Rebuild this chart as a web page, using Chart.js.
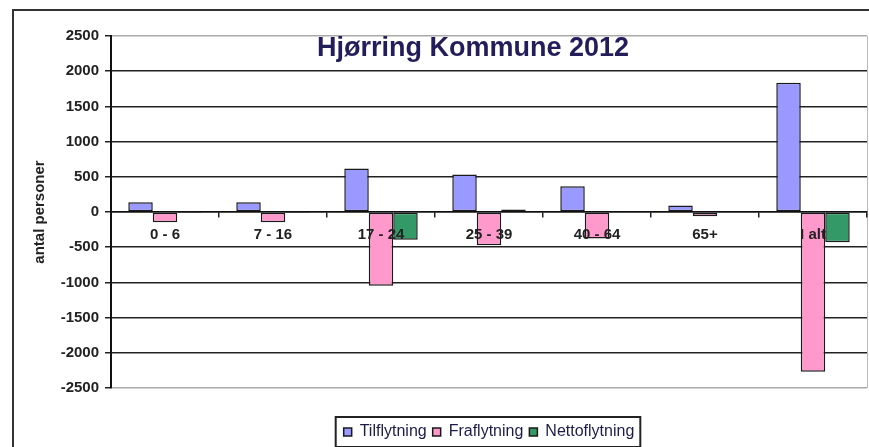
<!DOCTYPE html>
<html>
<head>
<meta charset="utf-8">
<script src="https://cdn.jsdelivr.net/npm/chart.js@4.4.8/dist/chart.umd.min.js"></script>
<style>
  html, body { margin: 0; padding: 0; background: #fff; }
  canvas { display: block; }
</style>
</head>
<body>
<canvas id="flytChart" width="869" height="447"></canvas>
<script>
const ageGroups = ["0 - 6", "7 - 16", "17 - 24", "25 - 39", "40 - 64", "65+", "I alt"];
const tilflytning = [137, 137, 619, 531, 366, 93, 1837];
const fraflytning = [-146, -146, -1048, -473, -377, -61, -2270];
const nettoflytning = [-5, -5, -395, 35, -10, 3, -429];
const yTicks = [-2500, -2000, -1500, -1000, -500, 0, 500, 1000, 1500, 2000, 2500];

const chartTitle = "Hjørring Kommune 2012";
const axisTitle = "antal personer";

// ramme, titel og legendeboks
const decorations = {
  id: "decorations",
  beforeDraw(chart) {
    const { ctx, chartArea } = chart;
    ctx.save();
    ctx.strokeStyle = "#333";
    ctx.lineWidth = 2;
    ctx.strokeRect(13, 10, 900, 500);
    ctx.strokeStyle = "#bbb";
    ctx.lineWidth = 1;
    ctx.beginPath();
    ctx.moveTo(chartArea.right + 0.5, chartArea.top);
    ctx.lineTo(chartArea.right + 0.5, chartArea.bottom);
    ctx.stroke();
    ctx.restore();
  },
  afterDraw(chart) {
    const { ctx } = chart;
    ctx.save();
    ctx.font = "bold 27px 'Liberation Sans', Arial, sans-serif";
    ctx.fillStyle = "#231e5a";
    ctx.textAlign = "center";
    ctx.textBaseline = "middle";
    ctx.fillText(chartTitle, 473, 49);

    const boxes = chart.legend.legendHitBoxes;
    if (boxes && boxes.length) {
      const left = Math.min(...boxes.map(b => b.left)) - 8;
      const right = Math.max(...boxes.map(b => b.left + b.width)) + 6;
      const top = Math.min(...boxes.map(b => b.top)) - 7;
      const bottom = Math.max(...boxes.map(b => b.top + b.height)) + 7;
      ctx.strokeStyle = "#222";
      ctx.lineWidth = 2;
      ctx.strokeRect(left, top, right - left, bottom - top);
    }
    ctx.restore();
  }
};

new Chart(document.getElementById("flytChart"), {
  type: "bar",
  data: {
    labels: ageGroups,
    datasets: [
      { label: "Tilflytning", data: tilflytning, backgroundColor: "#9999ff" },
      { label: "Fraflytning", data: fraflytning, backgroundColor: "#ff99cc" },
      { label: "Nettoflytning", data: nettoflytning, backgroundColor: "#339966" }
    ].map(ds => Object.assign(ds, {
      xAxisID: "x",
      borderColor: "#1a1a1a",
      borderWidth: 1.5,
      borderSkipped: false,
      categoryPercentage: 0.68,
      barPercentage: 1
    }))
  },
  options: {
    responsive: false,
    animation: false,
    layout: { padding: { top: 36, right: 2, left: 0, bottom: -3 } },
    plugins: {
      title: { display: false },
      tooltip: { enabled: false },
      legend: {
        position: "bottom",
        fullSize: false,
        labels: {
          boxWidth: 8,
          boxHeight: 8,
          padding: 6,
          color: "#1c1c4c",
          font: { family: "'Liberation Sans', Arial, sans-serif", size: 16 }
        }
      }
    },
    scales: {
      x: {
        type: "category",
        position: { y: 0 },
        grid: {
          offset: true,
          drawOnChartArea: false,
          drawTicks: true,
          tickLength: 5,
          color: "#222",
          lineWidth: 1.5
        },
        border: { display: true, color: "#111", width: 1.5 },
        ticks: {
          z: 1,
          padding: 9,
          color: "#222",
          font: { family: "'Liberation Sans', Arial, sans-serif", size: 15, weight: "bold" }
        }
      },
      gap: {
        axis: "x",
        type: "category",
        position: "bottom",
        grid: { display: false },
        border: { display: false },
        ticks: { display: false },
        afterFit(scale) { scale.height = 30; }
      },
      y: {
        min: yTicks[0],
        max: yTicks[yTicks.length - 1],
        afterBuildTicks(scale) { scale.ticks = yTicks.map(v => ({ value: v })); },
        afterFit(scale) { scale.width = 111; },
        grid: {
          color: c => (Math.abs(c.tick.value) === 2500 ? "#aaa" : "#222"),
          lineWidth: 1.5,
          tickLength: 6,
          tickColor: "#222"
        },
        border: { display: true, color: "#111", width: 2 },
        ticks: {
          padding: 6,
          color: "#222",
          callback: v => String(v),
          font: { family: "'Liberation Sans', Arial, sans-serif", size: 15, weight: "bold" }
        },
        title: {
          display: true,
          text: axisTitle,
          color: "#222",
          padding: { top: 31, bottom: 0 },
          font: { family: "'Liberation Sans', Arial, sans-serif", size: 15, weight: "bold" }
        }
      }
    }
  },
  plugins: [decorations]
});
</script>
</body>
</html>
